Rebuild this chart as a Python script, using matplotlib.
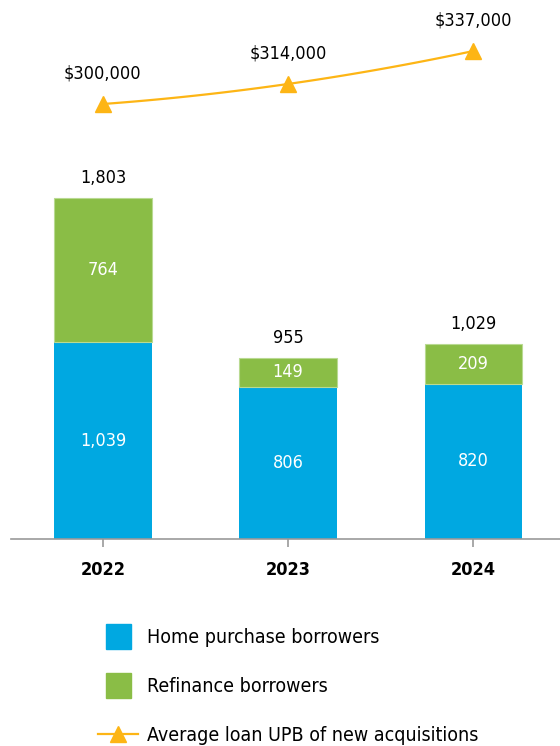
import numpy as np
import matplotlib.pyplot as plt
from matplotlib.lines import Line2D

plt.rcParams['font.family'] = ['DejaVu Sans']
plt.rcParams['font.stretch'] = 'condensed'

# borrowers by year and average loan UPB
years = ["2022", "2023", "2024"]
home_purchase = [1039, 806, 820]
refinance = [764, 149, 209]
avg_upb = [300000, 314000, 337000]

blue = "#00A8E1"
green = "#8ABD46"
orange = "#FDB515"

fig = plt.figure(figsize=(5.6, 7.46), dpi=100)
ax = fig.add_axes([0.02, 1 - 539 / 746, 0.98, 539 / 746])

x = np.arange(len(years))
totals = [a + b for a, b in zip(home_purchase, refinance)]
w = 0.527
ax.bar(x, home_purchase, w, color=blue, edgecolor="none", zorder=2)
ax.bar(x, refinance, w, bottom=home_purchase, color=green,
       edgecolor="#B9DA92", linewidth=0.8, zorder=2)

for i in range(len(years)):
    ax.text(x[i], home_purchase[i] / 2, f"{home_purchase[i]:,}", color="white",
            ha="center", va="center", fontsize=13)
    ax.text(x[i], home_purchase[i] + refinance[i] / 2, f"{refinance[i]:,}",
            color="white", ha="center", va="center", fontsize=13)
    ax.text(x[i], totals[i] + 60, f"{totals[i]:,}", color="black",
            ha="center", va="bottom", fontsize=13)

ax.set_xlim(-0.495, 2.468)
ax.set_ylim(0, 2849)
for s in ["top", "right", "left"]:
    ax.spines[s].set_visible(False)
ax.spines["bottom"].set_color("#999999")
ax.spines["bottom"].set_linewidth(1.2)
ax.set_yticks([])
ax.set_xticks(x)
ax.set_xticklabels(years, fontsize=13, fontweight="bold")
ax.tick_params(axis="x", direction="out", length=6, width=1.2, color="#999999", pad=10)

# average loan UPB on its own scale
ax2 = ax.twinx()
ax2.set_ylim(-3771, 372626)
ax2.axis("off")
coef = np.polyfit(x, avg_upb, 2)
xs = np.linspace(x[0], x[-1], 100)
ax2.plot(xs, np.polyval(coef, xs), color=orange, lw=1.6, zorder=3)
ax2.plot(x, avg_upb, ls="none", marker="^", ms=11, color=orange, zorder=4)
for i in range(len(years)):
    ax2.text(x[i], avg_upb[i] + 15000, f"${avg_upb[i]:,}", ha="center", va="bottom",
             fontsize=13)

handles = [
    Line2D([], [], ls="none", marker="s", ms=18, color=blue),
    Line2D([], [], ls="none", marker="s", ms=18, color=green),
    Line2D([], [], color=orange, lw=1.6, marker="^", ms=11),
]
labels = ["Home purchase borrowers", "Refinance borrowers",
          "Average loan UPB of new acquisitions"]
fig.legend(handles, labels, loc="upper left", bbox_to_anchor=(98 / 560, 1 - 628 / 746),
           frameon=False, fontsize=14, handlelength=2.06, handletextpad=0.46,
           labelspacing=1.55, borderpad=0, borderaxespad=0)

fig.savefig("out.png", dpi=100)
